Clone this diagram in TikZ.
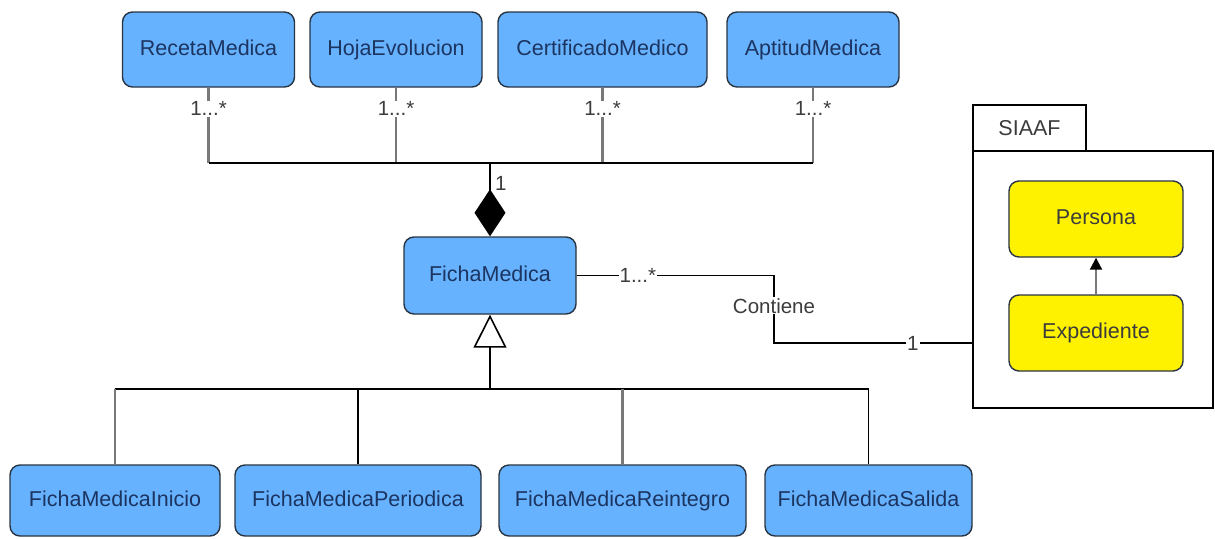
\documentclass[tikz,border=0pt]{standalone}
\usepackage{fontspec}
\setmainfont{Liberation Sans}
\usetikzlibrary{arrows.meta}
\definecolor{boxblue}{RGB}{102,178,255}
\definecolor{txtblue}{RGB}{28,52,96}
\definecolor{edgedark}{RGB}{40,52,66}
\definecolor{lblgray}{RGB}{60,60,60}
\definecolor{linegray}{RGB}{120,120,120}
\tikzset{
  cls/.style={draw=edgedark, line width=1.4pt, fill=boxblue, rounded corners=10pt,
    text=txtblue, font=\fontsize{21.5}{26}\selectfont, inner sep=0pt, minimum height=75pt,
    text height=15.5pt, text depth=4.5pt},
  ycls/.style={draw=edgedark, line width=1.4pt, fill=yellow, rounded corners=10pt,
    text=lblgray, font=\fontsize{21.5}{26}\selectfont, inner sep=0pt, minimum width=174pt, minimum height=76pt,
    text height=15.5pt, text depth=4.5pt},
  pkg/.style={draw=black, line width=1.2pt, fill=white, inner sep=0pt},
  lab/.style={fill=white, inner sep=1pt, text=lblgray, font=\fontsize{20.5}{24}\selectfont},
  conn/.style={draw=black, line width=1.5pt},
  gconn/.style={draw=linegray, line width=2.2pt},
}
\begin{document}
\begin{tikzpicture}[x=1pt,y=-1pt]
\useasboundingbox (0,0) rectangle (1215,538);
% top classes
\node[cls, minimum width=172pt] (rm) at (208.5,49.5) {RecetaMedica};
\node[cls, minimum width=172pt] (he) at (396,49.5) {HojaEvolucion};
\node[cls, minimum width=209pt] (cm) at (602.5,49.5) {CertificadoMedico};
\node[cls, minimum width=172pt] (am) at (813,49.5) {AptitudMedica};
% central
\node[cls, minimum width=172pt, minimum height=77pt] (fm) at (490,275.5) {FichaMedica};
% bottom classes
\node[cls, minimum width=210pt, minimum height=71pt] (fi) at (115,500.5) {FichaMedicaInicio};
\node[cls, minimum width=246pt, minimum height=71pt] (fp) at (358,500.5) {FichaMedicaPeriodica};
\node[cls, minimum width=247pt, minimum height=71pt] (fr) at (622.5,500.5) {FichaMedicaReintegro};
\node[cls, minimum width=207pt, minimum height=71pt] (fs) at (868.5,500.5) {FichaMedicaSalida};
% package
\node[pkg, minimum width=113pt, minimum height=46pt, text=lblgray, font=\fontsize{21.5}{26}\selectfont] (tab) at (1029.5,128) {SIAAF};
\node[pkg, minimum width=240pt, minimum height=257pt] (body) at (1093,279.5) {};
\node[ycls] (per) at (1096,219) {Persona};
\node[ycls] (exp) at (1096,333) {Expediente};
% junction coordinates
\coordinate (top) at (490,163);
\coordinate (bot) at (490,389);
\coordinate (k1) at (774,0);
\coordinate (y343) at (0,343);
\coordinate (ke) at (body.west |- y343);
% composition tree
\foreach \c in {rm,he,cm,am}{
  \draw[gconn] (\c.south) -- node[lab, pos=0.28]{1...*} (\c.south |- top);
}
\draw[conn] (rm.south |- top) -- (am.south |- top);
\draw[line width=2.6pt, -{Diamond[length=47pt,width=31pt,fill=black]}] (top) -- (fm.north);
\node[lab, fill=none, anchor=west] (one) at (494,183) {1};
% generalization tree
\draw[line width=2.6pt, -{Triangle[open,length=33pt,width=33pt,fill=white,line width=1.6pt]}] (bot) -- (fm.south);
\draw[conn] (fi.north |- bot) -- (fs.north |- bot);
\draw[gconn] (fi.north |- bot) -- (fi.north);
\draw[conn] (fp.north |- bot) -- (fp.north);
\draw[gconn] (fr.north |- bot) -- (fr.north);
\draw[conn] (fs.north |- bot) -- (fs.north);
% association
\draw[conn] (fm.east) -- node[lab, pos=0.31]{1...*} (fm.east -| k1)
  -- node[lab, pos=0.45]{Contiene} (k1 |- ke)
  -- node[lab, pos=0.70]{1} (ke);
% inside package
\draw[draw=linegray, line width=2pt, -{Triangle[length=12pt,width=12pt,fill=black,color=black]}] (exp.north) -- (per.south);
\end{tikzpicture}
\end{document}
